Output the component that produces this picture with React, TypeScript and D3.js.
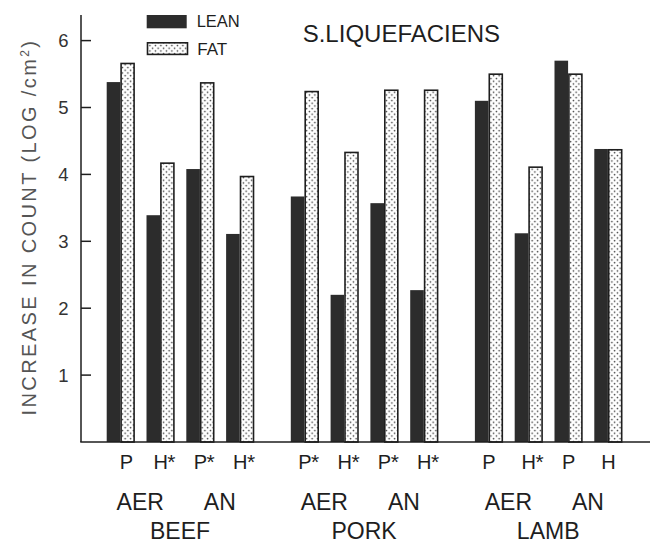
import React from "react";
import * as d3 from "d3";

const groups = ["BEEF", "PORK", "LAMB"];
const atmospheres = ["AER", "AN"];
const treatmentLabels = ["P", "H*", "P*", "H*", "P*", "H*", "P*", "H*", "P", "H*", "P", "H"];
const groupOfBar = [0, 0, 0, 0, 1, 1, 1, 1, 2, 2, 2, 2];
const leanValues = [5.38, 3.39, 4.08, 3.11, 3.67, 2.2, 3.57, 2.27, 5.1, 3.12, 5.7, 4.38];
const fatValues = [5.67, 4.18, 5.38, 3.98, 5.25, 4.34, 5.27, 5.27, 5.51, 4.12, 5.51, 4.38];
const yTicks = [1, 2, 3, 4, 5, 6];
const seriesNames = ["LEAN", "FAT"];
const chartTitle = "S.LIQUEFACIENS";

const W = 659;
const H = 549;
const LEAN_COLOR = "#2c2c2c";
const INK = "#1e1e1e";
const FONT = "'Liberation Sans', Arial, Helvetica, sans-serif";

export default function App() {
  const y = d3.scaleLinear().domain([0, 6]).range([442, 40.6]);
  const slot = (i: number) => (i % 4) + groupOfBar[i] * 4.625;
  const x = d3.scaleLinear().domain([0, 12.25]).range([106.7, 594.3]);
  const barW = 13.6;
  const pairCenter = (i: number) => x(slot(i)) + barW;
  const axisX = 81;
  const baseY = y(0);

  return (
    <svg
      width={W}
      height={H}
      style={{ position: "absolute", left: 0, top: 0, background: "#fff" }}
      fontFamily={FONT}
    >
      <defs>
        <pattern id="dots" patternUnits="userSpaceOnUse" width="5.5" height="5.5">
          <rect width="5.5" height="5.5" fill="#fff" />
          <circle cx="1.4" cy="1.4" r="0.8" fill="#333" />
          <circle cx="4.15" cy="4.15" r="0.8" fill="#333" />
        </pattern>
      </defs>
      <rect width={W} height={H} fill="#fff" />

      {/* bars */}
      {leanValues.map((v, i) => (
        <rect
          key={"l" + i}
          x={x(slot(i))}
          y={y(v)}
          width={barW}
          height={baseY - y(v)}
          fill={LEAN_COLOR}
        />
      ))}
      {fatValues.map((v, i) => (
        <rect
          key={"f" + i}
          x={x(slot(i)) + barW + 0.8}
          y={y(v) + 0.8}
          width={barW - 0.6}
          height={baseY - y(v) - 0.8}
          fill="url(#dots)"
          stroke={INK}
          strokeWidth={1.6}
        />
      ))}

      {/* axes */}
      <line x1={axisX} x2={axisX} y1={15} y2={baseY} stroke={INK} strokeWidth={1.5} />
      <line x1={axisX - 0.75} x2={650} y1={baseY} y2={baseY} stroke={INK} strokeWidth={1.6} />
      {yTicks.map((t) => (
        <g key={t}>
          <line x1={axisX} x2={axisX + 10} y1={y(t)} y2={y(t)} stroke={INK} strokeWidth={1.5} />
          <text
            x={68.5}
            y={y(t)}
            dy="0.36em"
            textAnchor="end"
            fontSize={18.5}
            fill="#333"
          >
            {t}
          </text>
        </g>
      ))}

      {/* y axis title */}
      <text
        transform={`translate(35.5, ${227}) rotate(-90)`}
        textAnchor="middle"
        fontSize={20}
        letterSpacing={2.4}
        fill="#555"
      >
        INCREASE IN COUNT (LOG /cm<tspan fontSize={12} dy={-7}>2</tspan>
        <tspan dy={7}>)</tspan>
      </text>

      {/* treatment labels */}
      {treatmentLabels.map((lab, i) => {
        const letter = lab[0];
        const star = lab.length > 1;
        const cx = pairCenter(i) + (i === 0 ? 6 : 0.5);
        const half = (letter === "H" ? 0.722 : 0.667) * 20 / 2;
        return (
          <g key={"t" + i}>
            <text x={cx} y={469} textAnchor="middle" fontSize={20} fill={INK}>
              {letter}
            </text>
            {star && (
              <text x={cx + half - 0.5} y={469} textAnchor="start" fontSize={21} fill={INK}>
                *
              </text>
            )}
          </g>
        );
      })}

      {/* atmosphere labels */}
      {groups.map((g, gi) =>
        atmospheres.map((a, ai) => {
          const i1 = gi * 4 + ai * 2;
          const cx = (pairCenter(i1) + pairCenter(i1 + 1)) / 2;
          return (
            <text key={g + a} x={cx} y={510} textAnchor="middle" fontSize={23} fill={INK}>
              {a}
            </text>
          );
        })
      )}

      {/* group labels */}
      {groups.map((g, gi) => {
        const cx = (pairCenter(gi * 4) + pairCenter(gi * 4 + 3)) / 2;
        return (
          <text key={g} x={cx} y={538.5} textAnchor="middle" fontSize={23} fill={INK}>
            {g}
          </text>
        );
      })}

      {/* legend */}
      <rect x={146.7} y={15} width={40} height={13.3} fill={LEAN_COLOR} />
      <rect
        x={147.5}
        y={42.8}
        width={40}
        height={11.6}
        fill="url(#dots)"
        stroke={INK}
        strokeWidth={1.6}
      />
      <text x={196.7} y={26.7} fontSize={16.5} fill={INK}>
        {seriesNames[0]}
      </text>
      <text x={197.3} y={54.8} fontSize={17} fill={INK}>
        {seriesNames[1]}
      </text>

      {/* title */}
      <text x={302.7} y={41.7} fontSize={24} fill={INK}>
        {chartTitle}
      </text>
    </svg>
  );
}
